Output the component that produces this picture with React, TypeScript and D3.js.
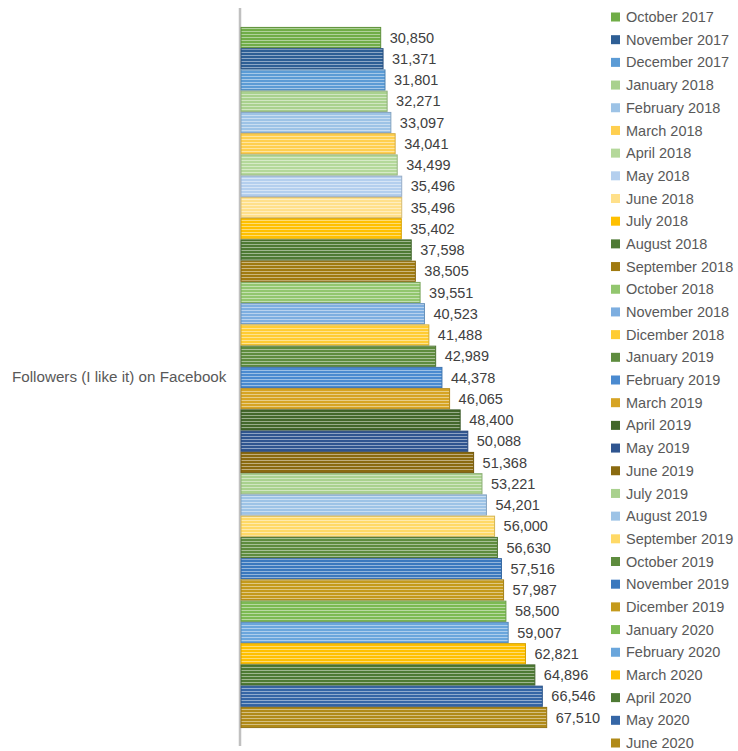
import React from "react";
import * as d3 from "d3";

const category = "Followers (I like it) on Facebook";
const months = [
  "October 2017", "November 2017", "December 2017", "January 2018", "February 2018",
  "March 2018", "April 2018", "May 2018", "June 2018", "July 2018", "August 2018",
  "September 2018", "October 2018", "November 2018", "Dicember 2018", "January 2019",
  "February 2019", "March 2019", "April 2019", "May 2019", "June 2019", "July 2019",
  "August 2019", "September 2019", "October 2019", "November 2019", "Dicember 2019",
  "January 2020", "February 2020", "March 2020", "April 2020", "May 2020", "June 2020",
];
const followers = [
  30850, 31371, 31801, 32271, 33097, 34041, 34499, 35496, 35496, 35402, 37598,
  38505, 39551, 40523, 41488, 42989, 44378, 46065, 48400, 50088, 51368, 53221,
  54201, 56000, 56630, 57516, 57987, 58500, 59007, 62821, 64896, 66546, 67510,
];
const colors = [
  "#70AD47", "#2E5F95", "#5B9BD5", "#A9D18E", "#9DC3E6", "#FFCF4F", "#B4D89A",
  "#B4CFEE", "#FFE08A", "#FFC000", "#4E7A34", "#A07A10", "#92C66E", "#7DAEE0",
  "#FFCC33", "#5E8C3E", "#4A8AD0", "#D6A424", "#43682B", "#2F5590", "#8A6A10",
  "#A9D18E", "#9DC3E6", "#FFD966", "#5E8C3E", "#3A78BE", "#C49A1C", "#7CBA52",
  "#6AA6DC", "#FFC000", "#4E7A34", "#3566A6", "#B08A18",
];

const W = 738;
const H = 751;

export default function App() {
  const x = d3.scaleLinear().domain([0, 70000]).range([241, 241 + 70000 * 0.004528]);
  const y = d3.scaleBand<string>().domain(months).range([27, 728]).paddingInner(0.05).paddingOuter(0.02);
  const legendY = d3.scalePoint<string>().domain(months).range([17, 743]);
  const font = "'Liberation Sans', Arial, sans-serif";

  return (
    <svg width={W} height={H} style={{ position: "absolute", left: 0, top: 0, background: "#fff" }}>
      <defs>
        {colors.map((c, i) => {
          const light = d3.interpolateRgb(c, "#ffffff")(0.45);
          return (
            <pattern key={i} id={`p${i}`} width={4} height={3} patternUnits="userSpaceOnUse">
              <rect width={4} height={3} fill={c} />
              <rect y={1} width={4} height={1} fill={light} />
            </pattern>
          );
        })}
      </defs>
      <line x1={240} x2={240} y1={8} y2={746} stroke="#c0c0c0" strokeWidth={2.5} />
      <text x={12} y={377} dy="0.35em" fontFamily={font} fontSize={15.2} fill="#595959">
        {category}
      </text>
      {months.map((m, i) => {
        const c = colors[i];
        const yy = y(m)!;
        const bw = y.bandwidth();
        return (
          <g key={m}>
            <rect
              x={x(0)}
              y={yy}
              width={x(followers[i]) - x(0)}
              height={bw}
              fill={`url(#p${i})`}
              stroke={d3.color(c)!.darker(0.5).formatHex()}
              strokeWidth={1}
            />
            <text
              x={x(followers[i]) + 9}
              y={yy + bw / 2}
              dy="0.35em"
              fontFamily={font}
              fontSize={14.5}
              fill="#404040"
            >
              {d3.format(",")(followers[i])}
            </text>
          </g>
        );
      })}
      {months.map((m, i) => (
        <g key={`l${m}`} transform={`translate(611,${legendY(m)})`}>
          <rect x={0} y={-4.5} width={9} height={9} fill={colors[i]} />
          <text x={15} y={0} dy="0.35em" fontFamily={font} fontSize={14.5} fill="#595959">
            {m}
          </text>
        </g>
      ))}
    </svg>
  );
}
